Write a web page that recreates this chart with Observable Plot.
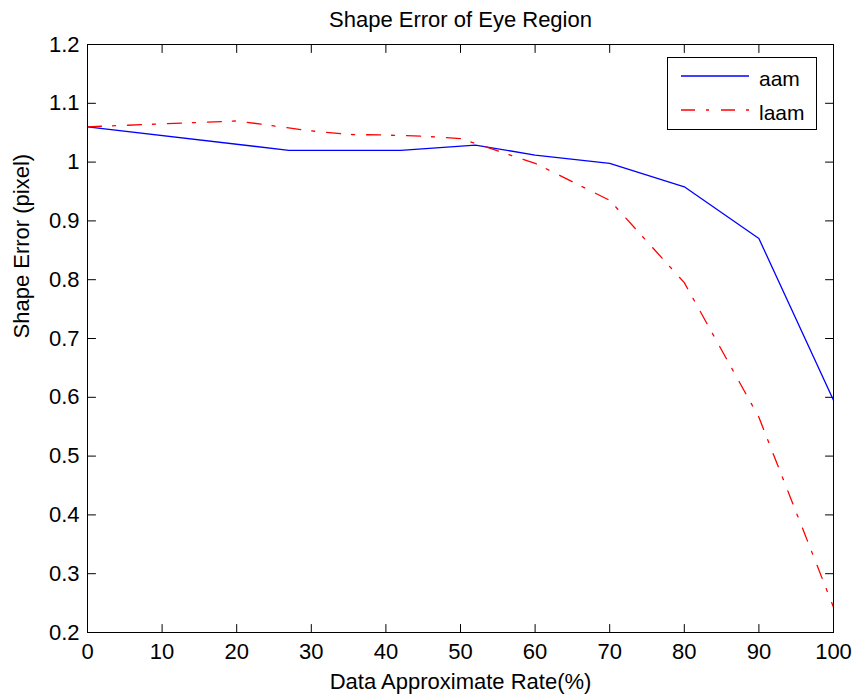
<!DOCTYPE html>
<html>
<head>
<meta charset="utf-8">
<script src="https://cdn.jsdelivr.net/npm/d3@7"></script>
<script src="https://cdn.jsdelivr.net/npm/@observablehq/plot@0.6"></script>
<style>
  html, body { margin: 0; padding: 0; background: #fff; }
  #chart svg { display: block; }
</style>
</head>
<body>
<div id="chart"></div>
<script>
// ---- data ----
const titleText = "Shape Error of Eye Region";
const xLabel = "Data Approximate Rate(%)";
const yLabel = "Shape Error (pixel)";

const xTicks = [0, 10, 20, 30, 40, 50, 60, 70, 80, 90, 100];
const yTicks = [0.2, 0.3, 0.4, 0.5, 0.6, 0.7, 0.8, 0.9, 1.0, 1.1, 1.2];

const seriesNames = ["aam", "laam"];
const seriesColors = ["#0000ff", "#ff0000"];

const aamRate  = [0, 27, 42, 52, 60, 70, 80, 90, 100];
const aamError = [1.060, 1.020, 1.020, 1.029, 1.012, 0.998, 0.958, 0.870, 0.595];

const laamRate  = [0, 10, 20, 30, 35, 40, 45, 50, 60, 70, 80, 90, 100];
const laamError = [1.060, 1.065, 1.070, 1.053, 1.047, 1.046, 1.044, 1.040, 0.998, 0.935, 0.795, 0.566, 0.243];

const aam = aamRate.map((r, i) => ({rate: r, error: aamError[i]}));
const laam = laamRate.map((r, i) => ({rate: r, error: laamError[i]}));

// ---- layout ----
const W = 853, H = 699;
const mT = 44, mR = 20, mB = 67, mL = 87;
const tick = 8;
const font = "'Liberation Sans', Arial, Helvetica, sans-serif";
const dashDot = "14,11,3,12";

// a straight tick segment for Plot.vector
const tickShape = {draw(context, l) { context.moveTo(0, 0); context.lineTo(0, -l); }};
const ticks = (data, channel, frameAnchor, rotate) =>
  Plot.vector(data, {[channel]: d => d, frameAnchor, rotate, length: tick, anchor: "start",
                     shape: tickShape, stroke: "#000", strokeWidth: 1});

const chart = Plot.plot({
  width: W, height: H,
  marginTop: mT, marginRight: mR, marginBottom: mB, marginLeft: mL,
  style: {fontFamily: font, fontSize: "22px", background: "#fff", color: "#000"},
  x: {domain: [0, 100]},
  y: {domain: [0.2, 1.2]},
  marks: [
    Plot.axisX({ticks: xTicks, tickSize: 0, tickPadding: 11, label: null, fontSize: 22, tickFormat: d => String(d)}),
    Plot.axisY({ticks: yTicks, tickSize: 0, tickPadding: 8, label: null, fontSize: 22, tickFormat: d => String(+d.toFixed(1))}),
    // inward ticks on all four sides
    ticks(xTicks, "x", "bottom", 0),
    ticks(xTicks, "x", "top", 180),
    ticks(yTicks, "y", "left", 90),
    ticks(yTicks, "y", "right", -90),
    Plot.line(aam, {x: "rate", y: "error", stroke: seriesColors[0], strokeWidth: 1.3}),
    Plot.line(laam, {x: "rate", y: "error", stroke: seriesColors[1], strokeWidth: 1.3, strokeDasharray: dashDot}),
    Plot.frame({stroke: "#000"}),
    Plot.text([titleText], {text: d => d, frameAnchor: "top", dy: -18, lineAnchor: "bottom", fontSize: 22}),
    Plot.text([xLabel], {text: d => d, frameAnchor: "bottom", dy: 56, lineAnchor: "bottom", fontSize: 22}),
    Plot.text([yLabel], {text: d => d, frameAnchor: "left", dx: -59, rotate: -90, lineAnchor: "bottom", fontSize: 22})
  ]
});

// ---- legend (inside the plot, top right) ----
const svg = d3.select(chart);
const lgW = 149, lgH = 72;
const lgX = W - mR - 17 - lgW, lgY = mT + 13;
const lg = svg.append("g").attr("text-anchor", "start");
lg.append("rect")
  .attr("x", lgX + 0.5).attr("y", lgY + 0.5)
  .attr("width", lgW).attr("height", lgH)
  .attr("fill", "#fff").attr("stroke", "#000").attr("stroke-width", 1);
seriesNames.forEach((name, i) => {
  const cy = lgY + 19 + i * 34;
  lg.append("line")
    .attr("x1", lgX + 14).attr("x2", lgX + 82)
    .attr("y1", cy).attr("y2", cy)
    .attr("stroke", seriesColors[i]).attr("stroke-width", 1.3)
    .attr("stroke-dasharray", i === 1 ? dashDot : null);
  lg.append("text")
    .attr("x", lgX + 92).attr("y", cy + 10)
    .attr("text-anchor", "start")
    .attr("font-family", font).attr("font-size", 21).attr("fill", "#000")
    .text(name);
});

document.getElementById("chart").appendChild(chart);
</script>
</body>
</html>
